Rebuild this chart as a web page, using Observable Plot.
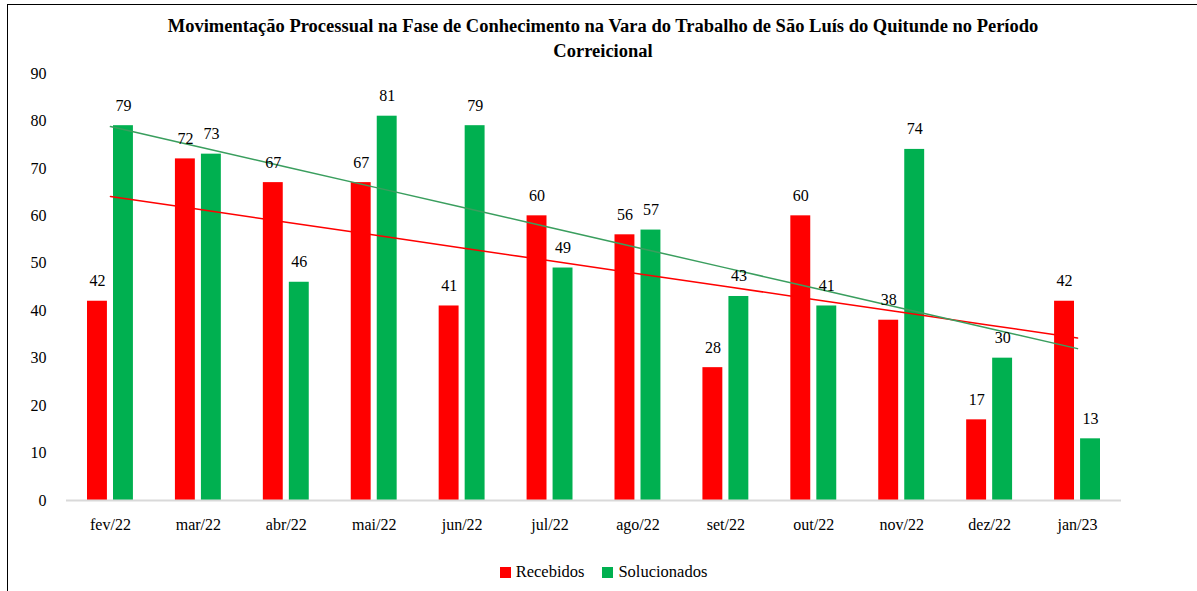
<!DOCTYPE html>
<html>
<head>
<meta charset="utf-8">
<script src="https://cdn.jsdelivr.net/npm/d3@7"></script>
<script src="https://cdn.jsdelivr.net/npm/@observablehq/plot@0.6"></script>
<style>
  html, body { margin: 0; padding: 0; background: #fff; }
  #wrap { position: relative; width: 1197px; height: 591px; overflow: hidden; font-family: "Liberation Serif", "DejaVu Serif", serif; }
  #frame { position: absolute; left: 7px; top: 4px; width: 1200px; height: 600px; border: 1.5px solid #000; box-sizing: border-box; }
  #title { position: absolute; left: 0; top: 14px; width: 1206px; text-align: center; font-weight: bold; font-size: 18.5px; line-height: 25px; color: #000; }
  #chart { position: absolute; left: 0; top: 60px; }
  #legend { position: absolute; top: 562px; left: 0; width: 1207px; display: flex; justify-content: center; gap: 18px; font-size: 16.5px; color: #000; }
  #legend span.item { display: flex; align-items: center; }
  #legend span.sw { display: inline-block; width: 11px; height: 11px; margin-right: 5px; }
</style>
</head>
<body>
<div id="wrap">
  <div id="frame"></div>
  <div id="title">Movimentação Processual na Fase de Conhecimento na Vara do Trabalho de São Luís do Quitunde no Período<br>Correicional</div>
  <div id="chart"></div>
  <div id="legend"></div>
</div>
<script>
const months = ["fev/22","mar/22","abr/22","mai/22","jun/22","jul/22","ago/22","set/22","out/22","nov/22","dez/22","jan/23"];
const recebidos = [42, 72, 67, 67, 41, 60, 56, 28, 60, 38, 17, 42];
const solucionados = [79, 73, 46, 81, 79, 49, 57, 43, 41, 74, 30, 13];
const series = ["Recebidos", "Solucionados"];
const colors = ["#FF0000", "#00B050"];
const trendColors = ["#FF0000", "#3A9E5E"];
const yTicks = [0, 10, 20, 30, 40, 50, 60, 70, 80, 90];

function fit(values) {
  const xs = values.map((_, i) => i + 1);
  const mx = d3.mean(xs), my = d3.mean(values);
  let sxy = 0, sxx = 0;
  xs.forEach((x, i) => { sxy += (x - mx) * (values[i] - my); sxx += (x - mx) ** 2; });
  const b = sxy / sxx, a = my - b * mx;
  return xs.map(x => a + b * x);
}

const rec = months.map((m, i) => ({month: m, value: recebidos[i]}));
const sol = months.map((m, i) => ({month: m, value: solucionados[i]}));
const recTrend = fit(recebidos).map((v, i) => ({month: months[i], value: v}));
const solTrend = fit(solucionados).map((v, i) => ({month: months[i], value: v}));

const fam = "'Liberation Serif', 'DejaVu Serif', serif";

const chart = Plot.plot({
  width: 1197,
  height: 490,
  marginLeft: 66,
  marginRight: 76,
  marginTop: 13,
  marginBottom: 50,
  style: {fontFamily: fam, fontSize: "16px", color: "#000", background: "transparent"},
  x: {domain: months, padding: 0, round: false, label: null, tickSize: 0, tickPadding: 18},
  y: {domain: [0, 90], ticks: yTicks, label: null, tickSize: 0, tickPadding: 20},
  marks: [
    Plot.barY(rec, {x: "month", y: "value", fill: colors[0], insetLeft: 21, insetRight: 47}),
    Plot.barY(sol, {x: "month", y: "value", fill: colors[1], insetLeft: 47, insetRight: 21}),
    Plot.ruleY([0], {stroke: "#d9d9d9", strokeWidth: 2}),
    Plot.line(recTrend, {x: "month", y: "value", stroke: trendColors[0], strokeWidth: 1.5}),
    Plot.line(solTrend, {x: "month", y: "value", stroke: trendColors[1], strokeWidth: 1.5}),
    Plot.text(rec, {x: "month", y: "value", text: d => String(d.value), dx: -13, dy: -15, lineAnchor: "bottom", fill: "#000", fontSize: 16, fontFamily: fam}),
    Plot.text(sol, {x: "month", y: "value", text: d => String(d.value), dx: 13, dy: -15, lineAnchor: "bottom", fill: "#000", fontSize: 16, fontFamily: fam})
  ]
});
document.getElementById("chart").appendChild(chart);

const legend = document.getElementById("legend");
series.forEach((s, i) => {
  const item = document.createElement("span");
  item.className = "item";
  const sw = document.createElement("span");
  sw.className = "sw";
  sw.style.background = colors[i];
  item.appendChild(sw);
  item.appendChild(document.createTextNode(s));
  legend.appendChild(item);
});
</script>
</body>
</html>
